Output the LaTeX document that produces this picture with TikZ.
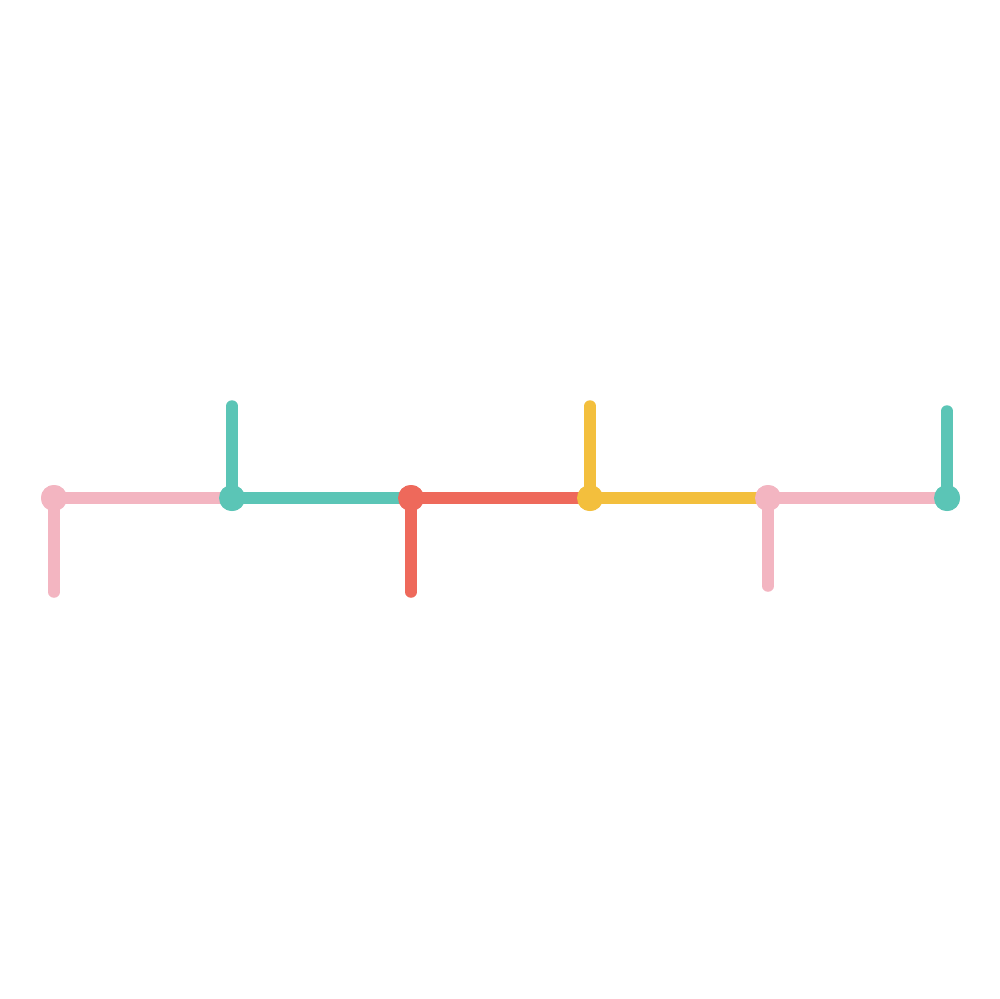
\documentclass[tikz,border=0pt]{standalone}
\definecolor{cpink}{HTML}{F3B5C1}
\definecolor{cteal}{HTML}{5BC5B6}
\definecolor{cred}{HTML}{EE695B}
\definecolor{cyellow}{HTML}{F3BF3D}
\begin{document}
\begin{tikzpicture}[x=1pt,y=-1pt,
  dot/.style={circle,fill=#1,draw=none,minimum size=26pt,inner sep=0pt},
  seg/.style={draw=#1,line width=11.5pt,line cap=round}]
\useasboundingbox (0,0) rectangle (1000,998);
\fill[white] (0,0) rectangle (1000,998);
% nodes
\node[dot=cpink]   (n1) at (54,498) {};
\node[dot=cteal]   (n2) at (232,498) {};
\node[dot=cred]    (n3) at (411,498) {};
\node[dot=cyellow] (n4) at (590,498) {};
\node[dot=cpink]   (n5) at (768,498) {};
\node[dot=cteal]   (n6) at (947,498) {};
% stem ends
\coordinate (e1) at (54,592);
\coordinate (e2) at (232,406);
\coordinate (e3) at (411,592);
\coordinate (e4) at (590,406);
\coordinate (e5) at (768,586);
\coordinate (e6) at (947,411);
% connectors
\path[seg=cpink]   (n1.center) -- (n2.center);
\path[seg=cteal]   (n2.center) -- (n3.center);
\path[seg=cred]    (n3.center) -- (n4.center);
\path[seg=cyellow] (n4.center) -- (n5.center);
\path[seg=cpink]   (n5.center) -- (n6.center);
\path[seg=cpink]   (n1.center) -- (e1);
\path[seg=cteal]   (n2.center) -- (e2);
\path[seg=cred]    (n3.center) -- (e3);
\path[seg=cyellow] (n4.center) -- (e4);
\path[seg=cpink]   (n5.center) -- (e5);
\path[seg=cteal]   (n6.center) -- (e6);
% dots on top
\foreach \n/\c in {n1/cpink,n2/cteal,n3/cred,n4/cyellow,n5/cpink,n6/cteal}
  \fill[\c] (\n.center) circle (13pt);
\end{tikzpicture}
\end{document}
